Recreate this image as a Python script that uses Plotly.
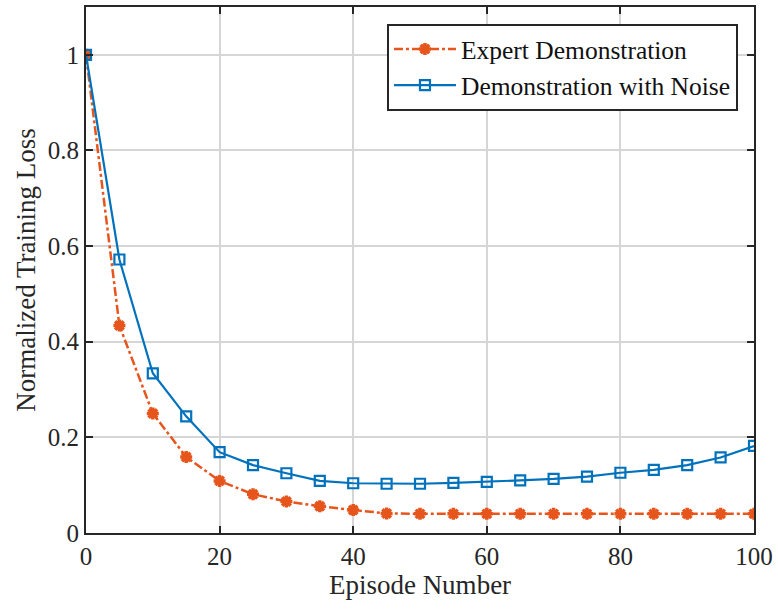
import plotly.graph_objects as go

# Training loss per episode
episodes = [0, 5, 10, 15, 20, 25, 30, 35, 40, 45, 50, 55, 60, 65, 70, 75, 80, 85, 90, 95, 100]
expert_loss = [1.0, 0.434, 0.250, 0.159, 0.109, 0.081, 0.066, 0.056, 0.048, 0.041, 0.040, 0.040,
               0.040, 0.040, 0.040, 0.040, 0.040, 0.040, 0.040, 0.040, 0.040]
noisy_loss = [1.0, 0.572, 0.334, 0.244, 0.169, 0.142, 0.125, 0.109, 0.104, 0.103, 0.103, 0.105,
              0.107, 0.110, 0.113, 0.118, 0.126, 0.132, 0.142, 0.158, 0.182]

x_ticks = [0, 20, 40, 60, 80, 100]
y_ticks = [0, 0.2, 0.4, 0.6, 0.8, 1.0]
y_tick_text = ["0", "0.2", "0.4", "0.6", "0.8", "1"]

ORANGE = "#E6561C"
BLUE = "#0072BD"
AXIS = "#262626"
FONT = "Liberation Serif, Times New Roman, serif"

fig = go.Figure()
fig.add_trace(go.Scatter(
    x=episodes, y=expert_loss, mode="lines+markers", name="Expert Demonstration",
    line=dict(color=ORANGE, width=2.5, dash="dashdot"),
    marker=dict(symbol="asterisk-open", size=10, color=ORANGE,
                line=dict(color=ORANGE, width=3.5)),
))
fig.add_trace(go.Scatter(
    x=episodes, y=noisy_loss, mode="lines+markers", name="Demonstration with Noise",
    line=dict(color=BLUE, width=2.2),
    marker=dict(symbol="square-open", size=10, color=BLUE,
                line=dict(color=BLUE, width=2.2)),
))

axis_common = dict(
    showline=True, linecolor=AXIS, linewidth=2, mirror="ticks",
    ticks="inside", ticklen=7, tickwidth=2, tickcolor=AXIS,
    showgrid=True, gridcolor="#D6D6D6", gridwidth=1.5, zeroline=False,
    tickfont=dict(family=FONT, size=25, color="#262626"),
)

fig.update_layout(
    width=778, height=609,
    margin=dict(l=86, r=22, t=5, b=76),
    paper_bgcolor="white", plot_bgcolor="white",
    font=dict(family=FONT, color="#262626"),
    xaxis=dict(range=[0, 100], tickvals=x_ticks,
               title=dict(text="Episode Number", font=dict(family=FONT, size=27), standoff=4),
               **axis_common),
    yaxis=dict(range=[0, 1.1], tickvals=y_ticks, ticktext=y_tick_text,
               title=dict(text="Normalized Training Loss", font=dict(family=FONT, size=27), standoff=4),
               **axis_common),
    legend=dict(x=0.976, y=0.968, xanchor="right", yanchor="top",
                bgcolor="white", bordercolor=AXIS, borderwidth=2,
                font=dict(family=FONT, size=25.5, color="#111111"),
                tracegroupgap=0, itemwidth=62),
    showlegend=True,
)

fig.write_html("out.html")
